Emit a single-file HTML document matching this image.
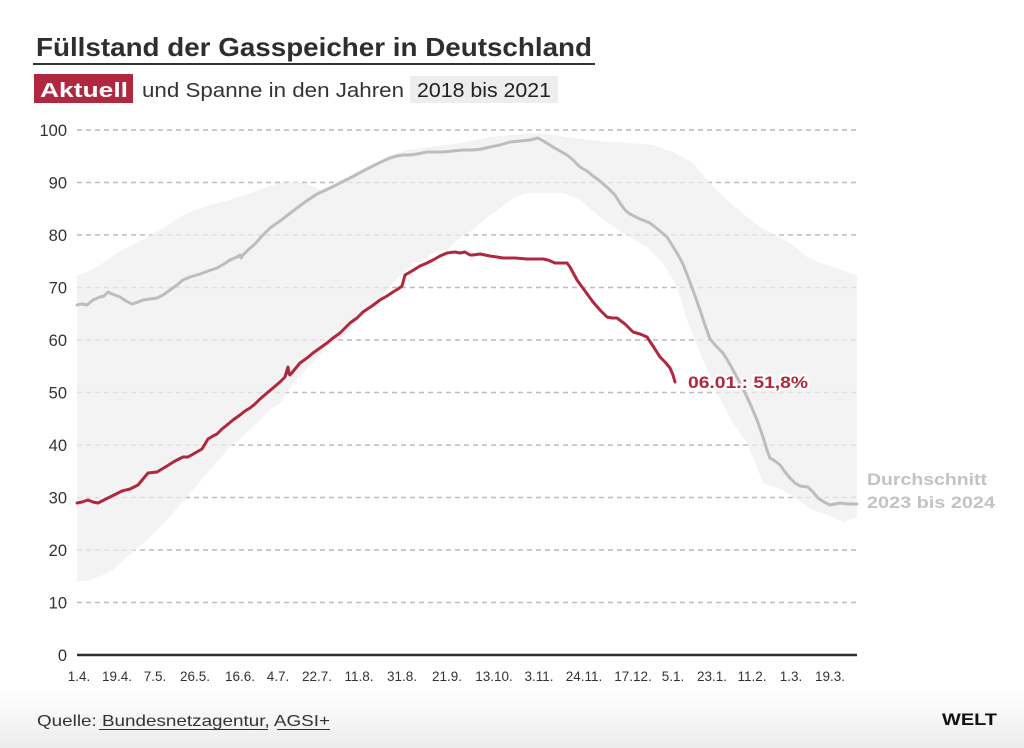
<!DOCTYPE html>
<html><head><meta charset="utf-8"><style>
html,body{margin:0;padding:0;background:#fff;}
svg{display:block;font-family:"Liberation Sans",sans-serif;}
</style></head><body>
<svg width="1024" height="748" viewBox="0 0 1024 748" xmlns="http://www.w3.org/2000/svg">
<defs>
<linearGradient id="fg" x1="0" y1="0" x2="0" y2="1">
<stop offset="0" stop-color="#ffffff"/><stop offset="1" stop-color="#ececec"/>
</linearGradient>
</defs>
<rect x="0" y="0" width="1024" height="748" fill="#fff"/>
<rect x="0" y="690" width="1024" height="58" fill="url(#fg)"/>

<!-- Title -->
<text x="36" y="56" font-size="26" font-weight="bold" fill="#2e2e2e" textLength="556" lengthAdjust="spacingAndGlyphs">Füllstand der Gasspeicher in Deutschland</text>
<rect x="33" y="63" width="562" height="2" fill="#333"/>

<!-- Subtitle -->
<rect x="34" y="74" width="99" height="29" fill="#b0283f"/>
<text x="40" y="97" font-size="20" font-weight="bold" fill="#fff" textLength="88" lengthAdjust="spacingAndGlyphs">Aktuell</text>
<text x="142" y="97" font-size="20" fill="#333" textLength="262" lengthAdjust="spacingAndGlyphs">und Spanne in den Jahren</text>
<rect x="410" y="76" width="148" height="27" fill="#ededed"/>
<text x="417" y="97" font-size="20" fill="#222" textLength="134" lengthAdjust="spacingAndGlyphs">2018 bis 2021</text>

<!-- Gridlines -->
<g stroke="#bcbcbc" stroke-width="1.5" stroke-dasharray="5 4">
<line x1="77" y1="130" x2="857" y2="130"/>
<line x1="77" y1="182.5" x2="857" y2="182.5"/>
<line x1="77" y1="235" x2="857" y2="235"/>
<line x1="77" y1="287.5" x2="857" y2="287.5"/>
<line x1="77" y1="340" x2="857" y2="340"/>
<line x1="77" y1="392.5" x2="857" y2="392.5"/>
<line x1="77" y1="445" x2="857" y2="445"/>
<line x1="77" y1="497.5" x2="857" y2="497.5"/>
<line x1="77" y1="550" x2="857" y2="550"/>
<line x1="77" y1="602.5" x2="857" y2="602.5"/>
</g>

<!-- Band -->
<polygon fill="#eeeeee" fill-opacity="0.72" points="77,275 87,272 103,263 117,253 137,243 160,230 187,213 210,205 230,200 250,193 267,187 280,183 297,182 310,185 320,190 330,186 340,181 363,169 383,159 397,153 407,150 430,147 460,143 490,137 510,135 540,133 573,138 607,142 630,143 653,145 673,152 693,163 713,187 730,203 747,217 760,227 775,235 790,243 807,257 820,263 833,267 850,273 857,275 857,518 853,518 843,522 833,517 813,510 803,503 783,490 763,483 757,467 747,443 733,423 717,393 713,383 700,353 687,320 677,287 663,263 647,247 623,233 600,217 580,200 563,193 527,193 513,198 500,208 490,215 470,232 460,238 447,250 433,253 420,262 413,263 393,283 380,300 360,317 343,337 327,347 293,383 280,403 270,410 253,427 230,447 207,473 187,497 167,520 147,540 127,557 113,570 103,575 90,580 77,582"/>

<!-- Zero axis -->
<line x1="77" y1="655" x2="857" y2="655" stroke="#2e2e2e" stroke-width="2.5"/>

<!-- Y labels -->
<g font-size="16.5" fill="#333" text-anchor="end">
<text x="67" y="136">100</text>
<text x="67" y="188.5">90</text>
<text x="67" y="241">80</text>
<text x="67" y="293.5">70</text>
<text x="67" y="346">60</text>
<text x="67" y="398.5">50</text>
<text x="67" y="451">40</text>
<text x="67" y="503.5">30</text>
<text x="67" y="556">20</text>
<text x="67" y="608.5">10</text>
<text x="67" y="661">0</text>
</g>

<!-- X labels -->
<g font-size="13.5" fill="#333" text-anchor="middle">
<text x="79" y="681">1.4.</text>
<text x="117" y="681">19.4.</text>
<text x="155" y="681">7.5.</text>
<text x="195" y="681">26.5.</text>
<text x="240" y="681">16.6.</text>
<text x="278" y="681">4.7.</text>
<text x="317" y="681">22.7.</text>
<text x="359" y="681">11.8.</text>
<text x="402" y="681">31.8.</text>
<text x="447" y="681">21.9.</text>
<text x="494" y="681">13.10.</text>
<text x="539" y="681">3.11.</text>
<text x="584" y="681">24.11.</text>
<text x="633" y="681">17.12.</text>
<text x="673" y="681">5.1.</text>
<text x="712" y="681">23.1.</text>
<text x="752" y="681">11.2.</text>
<text x="791" y="681">1.3.</text>
<text x="830" y="681">19.3.</text>
</g>

<!-- Grey average line -->
<polyline fill="none" stroke="#bdbdbd" stroke-width="3" stroke-linejoin="round" stroke-linecap="round" points="77,305 82,304 87,305 93,300 100,297 104,296 108,292 112,294 120,297 126,301 132,304 138,302 143,300 150,299 157,298 163,295 170,290 177,285 183,280 190,277 200,274 208,271 217,268 224,264 230,260 237,257 240,255 241,258 243,255 247,251 255,244 262,236 270,228 280,221 293,211 305,202 317,194 328,189 340,183 352,177 363,171 373,166 383,161 390,158 397,156 403,155 410,155 417,154 427,152 443,152 453,151 463,150 473,150 482,149 490,147 500,145 510,142 520,141 530,140 538,138 545,142 553,147 560,151 567,155 573,160 580,167 587,171 593,176 600,181 610,190 615,195 620,203 625,210 630,214 640,219 650,223 660,231 667,237 672,245 677,253 683,264 688,277 694,293 700,310 705,325 710,339 716,346 723,353 728,361 733,370 740,383 747,397 752,408 757,420 763,437 767,450 770,458 775,461 780,465 785,472 790,478 795,483 800,486 808,487 813,492 818,498 824,502 830,505 835,504 840,503 847,504 853,504 857,504"/>

<!-- Red current line -->
<polyline fill="none" stroke="#b0283f" stroke-width="3" stroke-linejoin="round" stroke-linecap="round" points="77,503 82,502 88,500 93,502 98,503 104,500 110,497 116,494 122,491 130,489 134,487 138,485 143,479 148,473 157,472 162,469 167,466 175,461 183,457 188,457 195,453 202,449 205,444 208,439 213,436 217,434 222,429 227,425 233,420 240,415 245,411 250,408 255,404 260,399 267,393 273,388 280,382 285,377 287,370 288,367 289,374 290,375 295,369 300,363 307,358 313,353 320,348 327,343 333,338 340,333 345,328 350,323 357,318 363,312 372,306 380,300 387,296 393,292 398,289 402,286 405,275 412,271 420,266 427,263 433,260 440,256 447,253 455,252 460,253 465,252 470,255 473,255 480,254 490,256 497,257 503,258 515,258 527,259 535,259 543,259 548,260 555,263 560,263 567,263 570,267 577,280 585,291 593,302 600,310 607,317 612,318 617,318 625,324 633,332 640,334 647,337 653,346 660,357 665,362 670,368 673,375 675,382"/>

<!-- Annotations -->
<text x="688" y="388" font-size="17" font-weight="bold" fill="#b0283f" stroke="#fff" stroke-width="4" paint-order="stroke" stroke-linejoin="round" textLength="120" lengthAdjust="spacingAndGlyphs">06.01.: 51,8%</text>
<text x="867" y="485" font-size="17" font-weight="bold" fill="#c3c3c3" textLength="120" lengthAdjust="spacingAndGlyphs">Durchschnitt</text>
<text x="867" y="508" font-size="17" font-weight="bold" fill="#c3c3c3" textLength="128" lengthAdjust="spacingAndGlyphs">2023 bis 2024</text>

<!-- Footer -->
<text x="37" y="726" font-size="16" fill="#333" textLength="293" lengthAdjust="spacingAndGlyphs">Quelle: Bundesnetzagentur, AGSI+</text>
<line x1="99" y1="729.5" x2="268" y2="729.5" stroke="#333" stroke-width="1"/>
<line x1="277" y1="729.5" x2="330" y2="729.5" stroke="#333" stroke-width="1"/>
<text x="942" y="725" font-size="17" font-weight="bold" fill="#111" textLength="55" lengthAdjust="spacingAndGlyphs">WELT</text>
</svg>
</body></html>
